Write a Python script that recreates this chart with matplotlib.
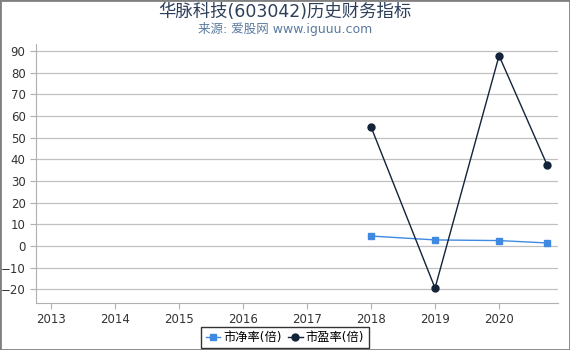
import matplotlib
matplotlib.use("Agg")
import matplotlib.pyplot as plt
import matplotlib.patches as mpatches

plt.rcParams["font.family"] = ["DejaVu Sans", "Noto Sans CJK SC"]

years = [2018, 2019, 2020, 2020.75]
pb = [4.6, 2.8, 2.5, 1.4]
pe = [55.0, -19.4, 87.8, 37.4]
xticks = [2013, 2014, 2015, 2016, 2017, 2018, 2019, 2020]
yticks = list(range(-20, 91, 10))

PB_COLOR = "#3f8ae0"
PE_COLOR = "#13233a"
GRID = "#c0c0c0"
TEXT = "#333333"

fig = plt.figure(figsize=(5.7, 3.5), dpi=100)
ax = fig.add_axes([36 / 570, 47 / 350, 522 / 570, 259 / 350])

ax.plot(years, pb, color=PB_COLOR, marker="s", markersize=5, linewidth=1,
        label="市净率(倍)", zorder=3)
ax.plot(years, pe, color=PE_COLOR, marker="o", markersize=5, linewidth=1,
        label="市盈率(倍)", zorder=3)

ax.set_xlim(2012.77, 2020.92)
ax.set_ylim(-26.3, 93.2)
ax.set_xticks(xticks)
ax.set_yticks(yticks)
ax.yaxis.grid(True, color=GRID, linewidth=0.9)
ax.set_axisbelow(True)
for side in ("top", "right"):
    ax.spines[side].set_visible(False)
for side in ("left", "bottom"):
    ax.spines[side].set_color("#b0b0b0")
ax.tick_params(colors="#b0b0b0", labelcolor=TEXT, labelsize=8.5, length=4)

fig.text(0.5, 0.965, "华脉科技(603042)历史财务指标", ha="center", va="center",
         fontsize=12.5, color="#2c3e5a")
fig.text(0.5, 0.918, "来源: 爱股网 www.iguuu.com", ha="center", va="center",
         fontsize=9, color="#5a7aa0")

leg = fig.legend(loc="lower center", bbox_to_anchor=(0.5, 0.0), ncol=2,
                 fontsize=8.8, frameon=True, fancybox=False, edgecolor="black",
                 handlelength=1.2, handletextpad=0.25, columnspacing=0.5,
                 borderpad=0.35, borderaxespad=0.15)
leg.get_frame().set_linewidth(1)

fig.patches.append(mpatches.Rectangle((0, 0), 1, 1, transform=fig.transFigure,
                                      fill=False, edgecolor="#808080",
                                      linewidth=2))

fig.savefig("out.png", dpi=100)
